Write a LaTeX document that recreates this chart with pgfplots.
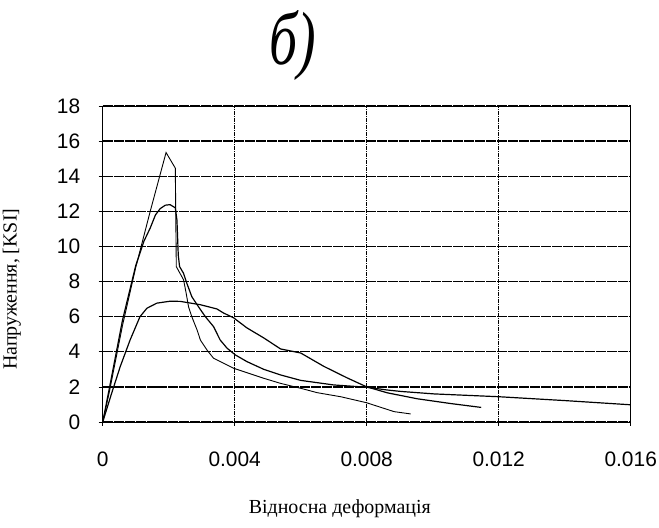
\documentclass[border=0pt]{standalone}
\usepackage{fontspec}
\setmainfont{Liberation Serif}
\setsansfont{Liberation Sans}
\usepackage{pgfplots}
\pgfplotsset{compat=1.18}
\begin{document}
\begin{tikzpicture}[x=1bp,y=1bp]
\useasboundingbox (0,0) rectangle (659,528);
\node[font=\fontsize{56}{56}\selectfont\itshape, yscale=1.35, inner sep=0pt] at (293,482) {б)};
\begin{axis}[
  at={(102.7bp,106bp)}, anchor=south west,
  width=528bp, height=316bp, scale only axis,
  xmin=0, xmax=0.016, ymin=0, ymax=18,
  scaled x ticks=false,
  xtick={0,0.004,0.008,0.012,0.016},
  xticklabels={0,0.004,0.008,0.012,0.016},
  ytick={0,2,4,6,8,10,12,14,16,18},
  xtick pos=bottom, ytick pos=left,
  tick align=outside, major tick length=4bp,
  tick style={black, line width=0.6pt},
  axis line style={black, line width=0.7pt},
  /pgf/number format/assume math mode=true,
  tick label style={font=\sffamily\fontsize{21}{21}\selectfont},
  xticklabel style={yshift=-22bp},
  yticklabel style={xshift=-15bp},
  xmajorgrids, ymajorgrids,
  x grid style={black, line width=0.7pt, dash pattern=on 4pt off 1pt on 1pt off 1pt},
  y grid style={black, line width=1.3pt, dash pattern=on 10pt off 1pt},
  xlabel={Відносна деформація},
  ylabel={Напруження, [KSI]},
  xlabel style={font=\fontsize{20}{20}\selectfont, at={(axis description cs:0.449,-0.275)}, anchor=center},
  ylabel style={font=\fontsize{20}{20}\selectfont, at={(axis description cs:-0.172,0.42)}, anchor=center},
  clip=true,
]
% Curve A: tall peak
\addplot[black, line width=0.9pt] coordinates {
(0,0) (0.0002,1.7) (0.0006,5.5) (0.001,8.8) (0.00144,12.0) (0.00192,15.35)
(0.0022,14.46) (0.00223,8.85) (0.00228,8.68) (0.00245,8.1) (0.00253,7.33)
(0.0026,6.57) (0.0027,6.0) (0.00286,5.24) (0.00296,4.67) (0.00316,4.1)
(0.00336,3.63) (0.00397,3.06) (0.00488,2.49) (0.00539,2.2) (0.006,1.92)
(0.0065,1.67) (0.00721,1.44) (0.00799,1.1) (0.00883,0.59) (0.00933,0.46)
};
% Curve B: peak about 12.4, long tail
\addplot[black, line width=1.2pt] coordinates {
(0,0) (0.0002,1.9) (0.0006,5.8) (0.001,8.9) (0.00125,10.3) (0.00144,11.05)
(0.0016,11.8) (0.00174,12.15) (0.0019,12.35) (0.00204,12.38) (0.0022,12.2)
(0.00225,11.5) (0.00229,9.5) (0.00233,8.85) (0.00245,8.47) (0.00255,7.9)
(0.0027,7.14) (0.0029,6.57) (0.00311,6.0) (0.00336,5.43) (0.00356,4.67)
(0.00377,4.2) (0.00402,3.82) (0.00437,3.44) (0.00488,3.0) (0.00539,2.68)
(0.006,2.37) (0.007,2.11) (0.008,1.98) (0.00863,1.82) (0.00904,1.74)
(0.01004,1.6) (0.012,1.44) (0.014,1.22) (0.016,0.98)
};
% Curve C: low plateau about 6.9
\addplot[black, line width=1.2pt] coordinates {
(0,0) (0.00027,1.63) (0.00053,3.15) (0.00083,4.67) (0.00113,6.0)
(0.00134,6.48) (0.00164,6.77) (0.00204,6.88) (0.00235,6.87) (0.00296,6.68)
(0.00346,6.44) (0.00366,6.21) (0.00397,5.93) (0.00437,5.36) (0.00488,4.79)
(0.00539,4.16) (0.006,3.93) (0.0067,3.17) (0.00741,2.51) (0.008,2.0)
(0.00863,1.66) (0.00954,1.32) (0.01055,1.05) (0.01147,0.83)
};
\end{axis}
\end{tikzpicture}
\end{document}
